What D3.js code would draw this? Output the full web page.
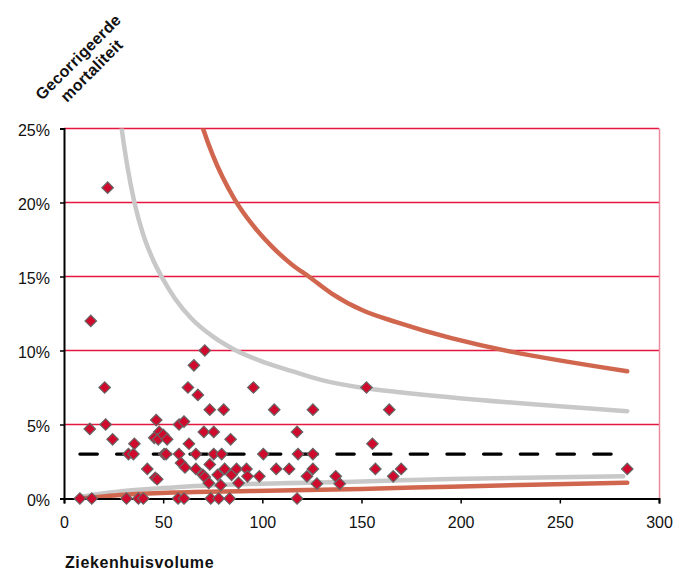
<!DOCTYPE html>
<html>
<head>
<meta charset="utf-8">
<script src="https://cdnjs.cloudflare.com/ajax/libs/d3/7.8.5/d3.min.js"></script>
<style>
  html, body { margin: 0; padding: 0; background: #fff; }
  svg { display: block; font-family: "Liberation Sans", Arial, Helvetica, sans-serif; }
</style>
</head>
<body>
<div id="chart"></div>
<script>
// hospital volume vs corrected mortality (%)
var volumes = [8, 14, 13, 13.5, 21, 20.5, 22, 24.5, 31.5, 32.5, 35, 35.5, 37.5, 40, 42,
  46, 47, 46.5, 48, 45.5, 47.5, 50, 52, 50.5, 51.5, 57.5, 58, 58, 60.5, 59, 61, 60.5,
  62.5, 63, 65.5, 66.5, 66.5, 67.5, 70, 71, 70.5, 71, 73.5, 73.5, 74, 73, 75.5, 75.5,
  77.5, 78, 79, 79.5, 80.5, 81, 83.5, 84, 84.5, 87, 88, 92, 92.5, 95.5, 98.5, 100.5,
  106, 107, 113.5, 117.5, 118, 117.5, 122.5, 125.5, 125.5, 125.5, 127.5, 137, 139,
  152.5, 155.5, 157, 164, 166, 170, 284];
var mortality = [0, 0, 4.7, 12, 5, 7.5, 21, 4, 0, 3, 3, 3.7, 0, 0, 2,
  1.4, 1.3, 5.3, 4.5, 4.1, 4.0, 4.3, 4, 3, 3, 0, 3, 5, 5.2, 2.4, 2.1, 0,
  7.5, 3.7, 9, 3, 2, 7, 1.6, 1.45, 4.5, 10, 6, 2.3, 0, 1.05, 4.5, 3,
  1.6, 0, 0.9, 3, 6, 2, 0, 4, 1.6, 2, 1.05, 2, 1.5, 7.5, 1.5, 3,
  6, 2, 2, 4.5, 3, 0, 1.5, 6, 3, 2, 1, 1.5, 1,
  7.5, 3.7, 2, 6, 1.5, 2, 2];

// control limits
var upperGray = [[27, 27.5], [29.1, 25], [32, 22.4], [35.5, 20], [40, 17.8], [45, 16.1], [50, 14.8],
  [56, 13.5], [64, 12.2], [75, 10.95], [86, 10.05], [100, 9.25], [115, 8.6], [130, 8.0], [152, 7.45],
  [168, 7.2], [284, 5.9]];
var upperRed = [[64, 27.8], [70.1, 25], [75, 23.2], [80, 21.7], [86.1, 20.2], [95, 18.5], [105, 17],
  [115, 15.8], [123.4, 15], [135, 13.85], [150.8, 12.7], [168, 11.9], [284, 8.6]];
var lowerGray = [[8, 0.1], [15, 0.25], [30, 0.5], [55, 0.75], [94, 0.98], [150, 1.15], [195, 1.32], [282, 1.5]];
var lowerRed = [[8, 0], [15, 0.08], [30, 0.25], [55, 0.4], [94, 0.5], [150, 0.65], [195, 0.8], [284, 1.07]];
var average = [[8, 3], [284, 3]];

var xTicks = [0, 50, 100, 150, 200, 250, 300];
var yTicks = [0, 5, 10, 15, 20, 25];

;(function(){
var W = 675, H = 573;
var pLeft = 64, pTop = 128.5, pRight = 659, pBottom = 498.5;

var svg = d3.select('#chart').append('svg')
  .attr('width', W)
  .attr('height', H);

var x = d3.scaleLinear().domain([0, 300]).range([pLeft, pRight]);
var y = d3.scaleLinear().domain([0, 25]).range([pBottom, pTop]);

svg.append('defs').append('clipPath')
  .attr('id', 'plot')
  .append('rect')
  .attr('x', pLeft)
  .attr('y', pTop)
  .attr('width', pRight - pLeft)
  .attr('height', pBottom - pTop);

// red gridlines
svg.append('g')
  .selectAll('line')
  .data(yTicks.slice(1))
  .join('line')
  .attr('x1', pLeft)
  .attr('x2', pRight)
  .attr('y1', function(d){ return y(d); })
  .attr('y2', function(d){ return y(d); })
  .attr('stroke', '#e4173f')
  .attr('stroke-width', 1.3);

svg.append('line')
  .attr('x1', pRight + 0.5)
  .attr('x2', pRight + 0.5)
  .attr('y1', pTop)
  .attr('y2', pBottom)
  .attr('stroke', '#ec8a9c')
  .attr('stroke-width', 1.5);

var line = d3.line()
  .x(function(d){ return x(d[0]); })
  .y(function(d){ return y(d[1]); })
  .curve(d3.curveMonotoneX);

var curves = svg.append('g').attr('clip-path', 'url(#plot)');

curves.append('path')
  .attr('d', line(upperGray))
  .attr('fill', 'none')
  .attr('stroke', '#c8c8c8')
  .attr('stroke-width', 4.5)
  .attr('stroke-linecap', 'round');

curves.append('path')
  .attr('d', line(lowerGray))
  .attr('fill', 'none')
  .attr('stroke', '#c8c8c8')
  .attr('stroke-width', 4.5)
  .attr('stroke-linecap', 'round');

curves.append('path')
  .attr('d', line(upperRed))
  .attr('fill', 'none')
  .attr('stroke', '#d1664f')
  .attr('stroke-width', 4.5)
  .attr('stroke-linecap', 'round');

curves.append('path')
  .attr('d', line(lowerRed))
  .attr('fill', 'none')
  .attr('stroke', '#d1664f')
  .attr('stroke-width', 4.5)
  .attr('stroke-linecap', 'round');

curves.append('path')
  .attr('d', d3.line().x(function(d){ return x(d[0]); }).y(function(d){ return y(d[1]); })(average))
  .attr('fill', 'none')
  .attr('stroke', '#000')
  .attr('stroke-width', 3.2)
  .attr('stroke-linecap', 'round')
  .attr('stroke-dasharray', '17.5,19.2');

// axes
var xAxis = svg.append('g')
  .attr('transform', 'translate(0,' + pBottom + ')')
  .call(d3.axisBottom(x).tickValues(xTicks).tickSize(5).tickPadding(13).tickFormat(d3.format('d')));
var yAxis = svg.append('g')
  .attr('transform', 'translate(' + pLeft + ',0)')
  .call(d3.axisLeft(y).tickValues(yTicks).tickSize(4).tickPadding(10).tickFormat(function(d){ return d + '%'; }));

[xAxis, yAxis].forEach(function(a){
  a.select('.domain').attr('stroke', '#000').attr('stroke-width', 2);
  a.selectAll('.tick line').attr('stroke', '#000').attr('stroke-width', 1.5);
  a.selectAll('.tick text')
    .attr('fill', '#111')
    .style('font-size', '16px')
    .style('font-family', '"Liberation Sans", Arial, Helvetica, sans-serif');
});
yAxis.selectAll('.tick text').attr('dy', '0.42em');

// hospitals
svg.append('g')
  .selectAll('path')
  .data(volumes)
  .join('path')
  .attr('d', d3.symbol(d3.symbolSquare, 66))
  .attr('transform', function(d, i){ return 'translate(' + x(d) + ',' + y(mortality[i]) + ') rotate(45)'; })
  .attr('fill', '#cf0a2c')
  .attr('stroke', '#666')
  .attr('stroke-width', 1.2);

// titles
var yTitle = svg.append('text')
  .attr('transform', 'translate(82,61) rotate(-45)')
  .attr('text-anchor', 'middle')
  .style('font-size', '16px')
  .style('font-weight', 'bold')
  .style('letter-spacing', '0.3px')
  .attr('fill', '#111');
yTitle.append('tspan').attr('x', 0).attr('dy', 0).text('Gecorrigeerde');
yTitle.append('tspan').attr('x', 0).attr('dy', 19).text('mortaliteit');

svg.append('text')
  .attr('x', 65)
  .attr('y', 567.5)
  .style('font-size', '16px')
  .style('font-weight', 'bold')
  .style('letter-spacing', '0.6px')
  .attr('fill', '#111')
  .text('Ziekenhuisvolume');
})();
</script>
</body>
</html>
